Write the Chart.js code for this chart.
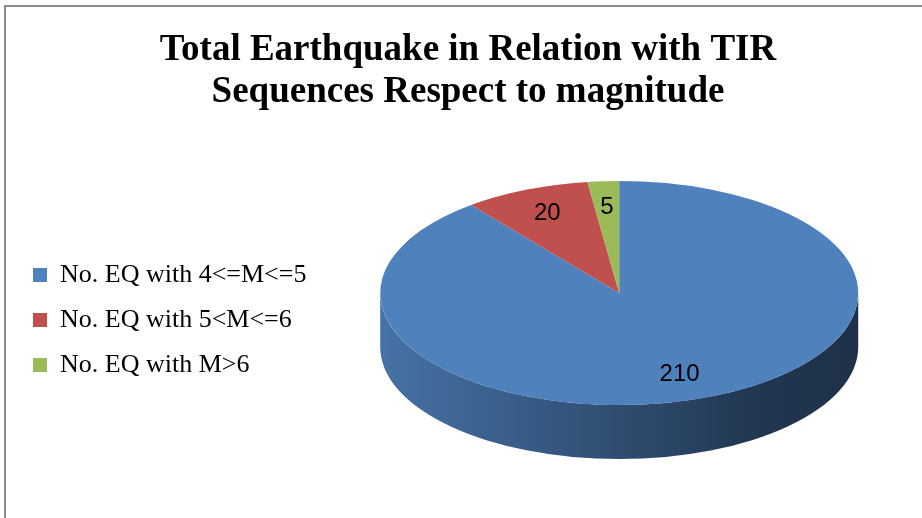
<!DOCTYPE html>
<html>
<head>
<meta charset="utf-8">
<script src="https://cdn.jsdelivr.net/npm/chart.js@4/dist/chart.umd.min.js"></script>
<style>
  html, body { margin: 0; padding: 0; background: #ffffff; }
  #wrap { width: 922px; height: 518px; position: relative; }
</style>
</head>
<body>
<div id="wrap"><canvas id="chart" width="922" height="518"></canvas></div>
<script>
// Earthquake counts by magnitude class
const categories = ['No. EQ with 4<=M<=5', 'No. EQ with 5<M<=6', 'No. EQ with M>6'];
const counts = [210, 20, 5];
const sliceColors = ['#4f81bd', '#c0504d', '#9bbb59'];
const titleLines = ['Total Earthquake in Relation with TIR', 'Sequences Respect to magnitude'];

// Look of the tilted, extruded pie
const TILT = 0.469;      // vertical squash of the top face
const DEPTH = 54;        // thickness of the pie's side wall
const LABEL_POS = 0.77;  // label distance from centre, as a share of the radius

function hexToRgb(hex) {
  const n = parseInt(hex.slice(1), 16);
  return [(n >> 16) & 255, (n >> 8) & 255, n & 255];
}
function shade(hex, f) {
  const [r, g, b] = hexToRgb(hex);
  return 'rgb(' + Math.round(r * f) + ',' + Math.round(g * f) + ',' + Math.round(b * f) + ')';
}

function pieGeometry(chart) {
  const arcs = chart.getDatasetMeta(0).data;
  if (!arcs.length) return null;
  const a = arcs[0];
  return { arcs, cx: a.x, cy: a.y, R: a.outerRadius, ecy: a.y - DEPTH / 2 };
}

// Frame lines along the top and left of the chart
const framePlugin = {
  id: 'frame',
  beforeDraw(chart) {
    const ctx = chart.ctx;
    ctx.save();
    ctx.fillStyle = '#ffffff';
    ctx.fillRect(0, 0, chart.width, chart.height);
    ctx.strokeStyle = '#8c8c8c';
    ctx.lineWidth = 2;
    ctx.beginPath();
    ctx.moveTo(5, chart.height + 2);
    ctx.lineTo(5, 6);
    ctx.lineTo(chart.width + 2, 6);
    ctx.stroke();
    ctx.restore();
  }
};

// Keep the legend column centred on the plot area (below the title)
const legendSpanPlugin = {
  id: 'legendSpan',
  afterLayout(chart) {
    const lg = chart.legend;
    if (!lg) return;
    lg.top = chart.chartArea.top;
    lg.bottom = chart.chartArea.bottom;
    lg.height = lg.bottom - lg.top;
  }
};

// Draws the side wall, tilts the slices, then writes the value labels
const pie3dPlugin = {
  id: 'pie3d',
  beforeDatasetsDraw(chart) {
    const g = pieGeometry(chart);
    if (!g) return;
    const ctx = chart.ctx;
    const ry = g.R * TILT;
    g.arcs.forEach((arc, i) => {
      const color = chart.data.datasets[0].backgroundColor[i];
      // front half of the rim is the part with angles in [0, PI]
      for (let off = -2 * Math.PI; off <= 2 * Math.PI; off += 2 * Math.PI) {
        const a0 = Math.max(arc.startAngle, off);
        const a1 = Math.min(arc.endAngle, off + Math.PI);
        if (a1 <= a0) continue;
        const grad = ctx.createLinearGradient(g.cx - g.R, 0, g.cx + g.R, 0);
        grad.addColorStop(0, shade(color, 0.88));
        grad.addColorStop(0.5, shade(color, 0.6));
        grad.addColorStop(0.8, shade(color, 0.42));
        grad.addColorStop(1, shade(color, 0.38));
        ctx.save();
        ctx.beginPath();
        ctx.ellipse(g.cx, g.ecy, g.R, ry, 0, a0, a1, false);
        ctx.ellipse(g.cx, g.ecy + DEPTH, g.R, ry, 0, a1, a0, true);
        ctx.closePath();
        ctx.fillStyle = grad;
        ctx.fill();
        ctx.restore();
      }
    });
  },
  beforeDatasetDraw(chart) {
    const g = pieGeometry(chart);
    if (!g) return;
    const ctx = chart.ctx;
    ctx.save();
    ctx.translate(g.cx, g.ecy);
    ctx.scale(1, TILT);
    ctx.translate(-g.cx, -g.cy);
  },
  afterDatasetDraw(chart) {
    chart.ctx.restore();
  },
  afterDatasetsDraw(chart) {
    const g = pieGeometry(chart);
    if (!g) return;
    const ctx = chart.ctx;
    const values = chart.data.datasets[0].data;
    ctx.save();
    ctx.font = '24px "Liberation Sans", Arial, sans-serif';
    ctx.fillStyle = '#000000';
    ctx.textAlign = 'center';
    ctx.textBaseline = 'middle';
    g.arcs.forEach((arc, i) => {
      const mid = (arc.startAngle + arc.endAngle) / 2;
      const r = g.R * LABEL_POS;
      const x = g.cx + r * Math.cos(mid);
      const y = g.ecy + r * TILT * Math.sin(mid);
      ctx.fillText(String(values[i]), x, y);
    });
    ctx.restore();
  }
};

new Chart(document.getElementById('chart'), {
  type: 'pie',
  data: {
    labels: categories,
    datasets: [{
      data: counts,
      backgroundColor: sliceColors,
      borderWidth: 0,
      radius: 239,
      clip: false
    }]
  },
  options: {
    responsive: false,
    animation: false,
    events: [],
    layout: { padding: { left: 14, right: 0, top: 0, bottom: 0 } },
    plugins: {
      title: {
        display: true,
        text: titleLines,
        color: '#000000',
        font: { family: '"Liberation Serif", "Times New Roman", serif', size: 37, weight: 'bold', lineHeight: 1.16 },
        padding: { top: 28.5, bottom: 7.7 }
      },
      legend: {
        position: 'left',
        align: 'center',
        labels: {
          color: '#000000',
          font: { family: '"Liberation Serif", "Times New Roman", serif', size: 26 },
          boxWidth: 14,
          boxHeight: 14,
          padding: 19
        }
      },
      tooltip: { enabled: false }
    }
  },
  plugins: [framePlugin, legendSpanPlugin, pie3dPlugin]
});
</script>
</body>
</html>
